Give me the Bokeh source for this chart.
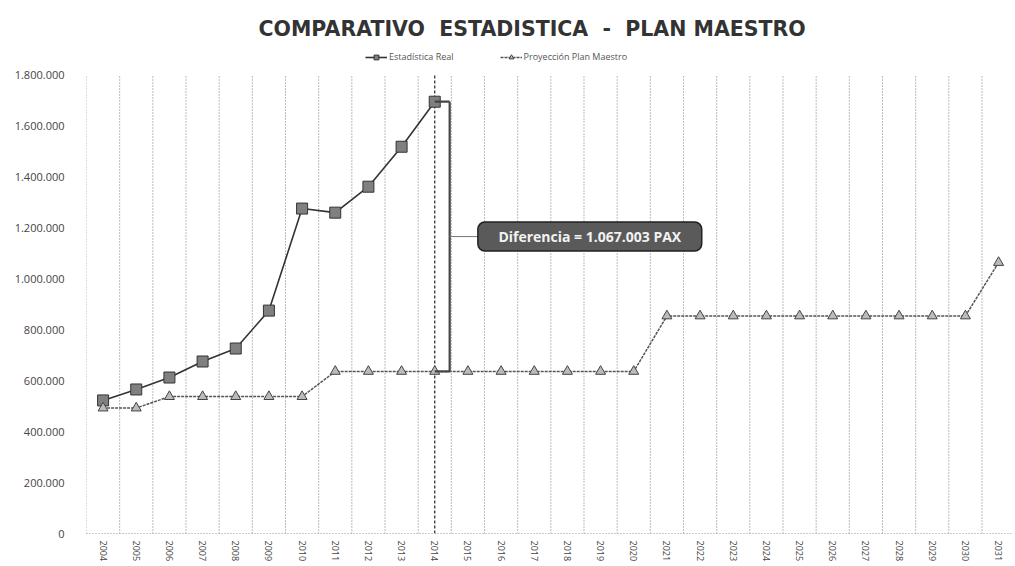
from bokeh.plotting import figure
from bokeh.models import Range1d, FixedTicker, Legend, LegendItem
from bokeh.embed import file_html
from bokeh.resources import INLINE
from bokeh.core.properties import value

# ---------------- data ----------------
years = list(range(2004, 2032))
real_years = list(range(2004, 2015))
real_values = [523000, 566000, 613000, 676000, 727000, 876000,
               1277000, 1261000, 1363000, 1520000, 1697000]
plan_values = [493000, 493000,
               538000, 538000, 538000, 538000, 538000,
               637000, 637000, 637000, 637000, 637000, 637000, 637000, 637000, 637000, 637000,
               855000, 855000, 855000, 855000, 855000, 855000, 855000, 855000, 855000, 855000,
               1065000]
y_ticks = [0, 200000, 400000, 600000, 800000, 1000000, 1200000, 1400000, 1600000, 1800000]
y_tick_labels = ["0", "200.000", "400.000", "600.000", "800.000", "1.000.000",
                 "1.200.000", "1.400.000", "1.600.000", "1.800.000"]
title_text = "COMPARATIVO\u00a0\u00a0ESTADISTICA\u00a0\u00a0-\u00a0\u00a0PLAN MAESTRO"
series_names = ["Estadística Real", "Proyección Plan Maestro"]
diff_text = "Diferencia = 1.067.003 PAX"
diff_year = 2014

FONT = "Open Sans"
y_top = y_ticks[-1]

p = figure(width=1013, height=564, output_backend="svg", toolbar_location=None,
           x_range=Range1d(2003.5, 2031.45), y_range=Range1d(0, y_top * 1.0655),
           min_border_left=86, min_border_right=0, min_border_top=45, min_border_bottom=0)
p.title.text = title_text
p.title.align = "left"
p.title.offset = 172
p.title.text_font = "DejaVu Sans"
p.title.text_font_size = "20.5px"
p.title.text_font_style = "bold"
p.title.text_color = "#333333"
p.outline_line_color = None

# axes
p.xaxis.ticker = FixedTicker(ticks=years)
p.xaxis.major_label_orientation = "vertical"
p.xaxis.major_label_text_font = FONT
p.xaxis.major_label_text_font_size = "9px"
p.xaxis.major_label_text_color = "#444444"
p.xaxis.major_label_standoff = 1
p.xaxis.major_tick_line_color = None
p.xaxis.minor_tick_line_color = None
p.xaxis.axis_line_color = "#999999"
p.xaxis.axis_line_dash = "1 2"

p.yaxis.ticker = FixedTicker(ticks=y_ticks)
p.yaxis.major_label_overrides = {t: l for t, l in zip(y_ticks, y_tick_labels)}
p.yaxis.major_label_text_font = FONT
p.yaxis.major_label_text_font_size = "11px"
p.yaxis.major_label_text_color = "#444444"
p.yaxis.major_label_standoff = 16
p.yaxis.major_tick_line_color = None
p.yaxis.minor_tick_line_color = None
p.yaxis.axis_line_color = None

p.grid.grid_line_color = None

# vertical dotted grid lines at category boundaries (0 .. 1.8M)
bounds = [y - 0.5 for y in years]
p.segment(x0=bounds, y0=[0] * len(bounds), x1=bounds, y1=[y_top] * len(bounds),
          line_color="#777777", line_dash="1 2", line_width=1)

# 2014 dashed marker
p.segment(x0=[diff_year], y0=[0], x1=[diff_year], y1=[y_top],
          line_color="#222222", line_dash="3 2", line_width=1.2)

# series
r1 = p.line(real_years, real_values, line_color="#333333", line_width=1.6)
s1 = p.scatter(real_years, real_values, marker="square", size=11,
               fill_color="#808080", line_color="#333333", line_width=1)
r2 = p.line(years, plan_values, line_color="#555555", line_width=1.5, line_dash="3 1")
s2 = p.scatter(years, plan_values, marker="triangle", size=10,
               fill_color="#bbbbbb", line_color="#444444", line_width=1)

# difference bracket
i14 = real_years.index(diff_year)
top_v = real_values[i14]
bot_v = plan_values[years.index(diff_year)]
bx = diff_year + 0.45
p.segment(x0=[diff_year, bx, diff_year], y0=[top_v, top_v, bot_v],
          x1=[bx, bx, bx], y1=[top_v, bot_v, bot_v],
          line_color="#444444", line_width=2.2)
mid = (top_v + bot_v) / 2
box_l, box_r = diff_year + 1.3, diff_year + 8.05
p.segment(x0=[bx], y0=[mid], x1=[box_l], y1=[mid], line_color="#777777", line_width=1)
p.quad(left=[box_l], right=[box_r], top=[mid + 57000], bottom=[mid - 57000],
       fill_color="#5a5a5a", line_color="#222222", line_width=1.5, border_radius=7)
p.text(x=[(box_l + box_r) / 2], y=[mid], text=[diff_text], text_align="center",
       text_baseline="middle", text_color="#f2f2f2", text_font=value(FONT),
       text_font_size="14px", text_font_style="bold")

legend = Legend(items=[LegendItem(label=series_names[0], renderers=[r1, s1]),
                       LegendItem(label=series_names[1], renderers=[r2, s2])],
                orientation="horizontal", location=(279, 470))
legend.label_text_font = FONT
legend.label_text_font_size = "9px"
legend.label_text_color = "#555555"
legend.glyph_width = 22
legend.glyph_height = 12
legend.label_standoff = 2
legend.spacing = 46
legend.padding = 0
legend.margin = 0
legend.border_line_color = None
legend.background_fill_alpha = 0
p.add_layout(legend, "center")

open("out.html", "w").write(file_html(p, INLINE))
